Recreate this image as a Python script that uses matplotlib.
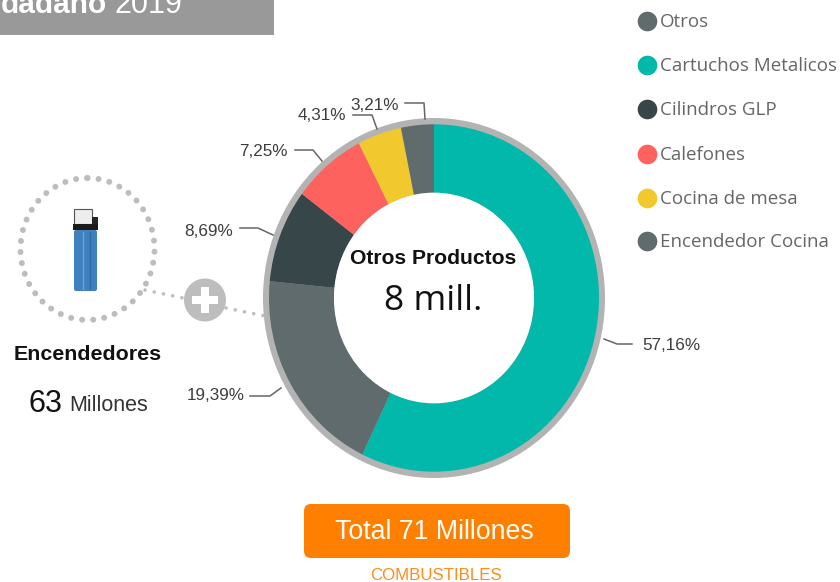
import matplotlib
matplotlib.use('Agg')
import matplotlib.pyplot as plt
from matplotlib.patches import Rectangle, Ellipse, Circle, FancyBboxPatch

# values
categories = ['Cartuchos Metalicos', 'Otros', 'Cilindros GLP', 'Calefones', 'Cocina de mesa', 'Encendedor Cocina']
values = [57.16, 19.39, 8.69, 7.25, 4.31, 3.21]
pct_labels = ['57,16%', '19,39%', '8,69%', '7,25%', '4,31%', '3,21%']
colors = ['#01B8AA', '#5F6B6D', '#374649', '#FD625E', '#F2C82F', '#5F6B6D']

legend_names = ['Otros', 'Cartuchos Metalicos', 'Cilindros GLP', 'Calefones', 'Cocina de mesa', 'Encendedor Cocina']
legend_colors = ['#5F6B6D', '#01B8AA', '#374649', '#FD625E', '#F2C82F', '#5F6B6D']

# layout, in pixels of the picture
legend_y = [21, 65, 109, 154, 198, 241]
label_xy = [(671, 345), (216, 396), (209, 231), (263, 152), (322, 116), (375, 106)]
leaders = [
    [(604, 339), (617, 344), (632, 344)],
    [(250, 396), (270, 396), (281, 388)],
    [(240, 228), (258, 228), (273, 235)],
    [(295, 150), (313, 150), (322, 161)],
    [(353, 115), (372, 115), (377, 129)],
    [(405, 103), (424, 103), (425, 119)],
]

fig = plt.figure(figsize=(8.4, 5.82), dpi=100)

# donut, stretched a bit like the screenshot
pie_ax = fig.add_axes([263 / 840, 1 - 478 / 582, 342 / 840, 360 / 582])
pie_ax.add_patch(Circle((0, 0), 1, facecolor='#B3B3B3', edgecolor='none'))
pie_ax.pie(values, colors=colors, radius=0.965, startangle=90, counterclock=False,
           wedgeprops=dict(width=0.38, edgecolor='none'))
pie_ax.add_patch(Circle((0, 0), 0.585, facecolor='white', edgecolor='none'))
pie_ax.set_xlim(-1, 1)
pie_ax.set_ylim(-1, 1)
pie_ax.set_aspect('auto')
pie_ax.axis('off')

# everything else goes on a full figure axes in pixel coordinates
ax = fig.add_axes([0, 0, 1, 1], zorder=2)
ax.set_xlim(0, 840)
ax.set_ylim(582, 0)
ax.axis('off')

# header
ax.add_patch(Rectangle((0, 0), 274, 35, facecolor='#999999', edgecolor='none'))
ax.text(107, 13, 'dadano', color='white', fontsize=21.5, fontweight='bold', family='Liberation Sans', ha='right', va='baseline')
ax.text(115, 13, '2019', color='white', fontsize=22, family='Liberation Sans', ha='left', va='baseline')

# leaders and percent labels
for (x, y), txt, pts in zip(label_xy, pct_labels, leaders):
    ax.text(x, y, txt, fontsize=12.3, color='#3D3D3D', family='Liberation Sans', ha='center', va='center')
    ax.plot([p[0] for p in pts], [p[1] for p in pts], color='#666666', lw=1.1)

# centre
ax.text(433, 258, 'Otros Productos', fontsize=15.2, fontweight='bold', color='#111111', family='Liberation Sans', ha='center', va='center')
ax.text(433, 310, '8 mill.', fontsize=25.5, color='#111111', family='Open Sans', ha='center', va='baseline')

# legend
for y, name, c in zip(legend_y, legend_names, legend_colors):
    ax.scatter([647], [y], s=200, color=c, linewidths=0)
    ax.text(660, y + 1, name, fontsize=13.5, color='#666666', family='Open Sans', ha='left', va='center')

# lighter block on the left
ax.add_patch(Ellipse((87.5, 249), 134, 142, fill=False, edgecolor='#BDBDBD', lw=4.3,
                     linestyle=(0, (0.01, 1.85)), capstyle='round'))
ax.add_patch(Rectangle((74, 209), 18, 15, facecolor='#EDEDED', edgecolor='#555555', lw=0.8))
ax.add_patch(Rectangle((92, 217), 6, 8, facecolor='#222222', edgecolor='none'))
ax.add_patch(Rectangle((73, 224), 25, 6, facecolor='#1A1A1A', edgecolor='none'))
ax.add_patch(FancyBboxPatch((74, 230), 23, 61, boxstyle='round,pad=0,rounding_size=2', facecolor='#3F80BF', edgecolor='none'))
ax.plot([83, 83], [232, 289], color='#6FA3D6', lw=1)
ax.plot([90, 90], [232, 289], color='#2F6AA6', lw=1)

dot_style = dict(color='#BDBDBD', lw=2.6, linestyle=(0, (0.01, 2.6)), dash_capstyle='round')
ax.plot([145, 183], [290, 298], **dot_style)
ax.plot([226, 265], [308, 316], **dot_style)
ax.add_patch(Ellipse((205, 300), 42, 43, facecolor='#BDBDBD', edgecolor='none'))
ax.add_patch(Rectangle((192, 296), 26, 8, facecolor='white', edgecolor='none'))
ax.add_patch(Rectangle((201, 287), 8, 26, facecolor='white', edgecolor='none'))

ax.text(88, 355, 'Encendedores', fontsize=15.4, fontweight='bold', color='#111111', family='Liberation Sans', ha='center', va='center')
ax.text(28, 412, '63', fontsize=22, color='#111111', family='Liberation Sans', ha='left', va='baseline')
ax.text(69, 411, 'Millones', fontsize=15.5, color='#333333', family='Liberation Sans', ha='left', va='baseline')

# total button
ax.add_patch(FancyBboxPatch((304, 504), 266, 54, boxstyle='round,pad=0,rounding_size=7', facecolor='#FF8000', edgecolor='none'))
ax.text(434, 532, 'Total 71 Millones', fontsize=19.3, color='white', family='Liberation Sans', ha='center', va='center')
ax.text(436, 575, 'COMBUSTIBLES', fontsize=12.2, color='#FF8C1A', family='Liberation Sans', ha='center', va='center')

fig.savefig('out.png', dpi=100)
